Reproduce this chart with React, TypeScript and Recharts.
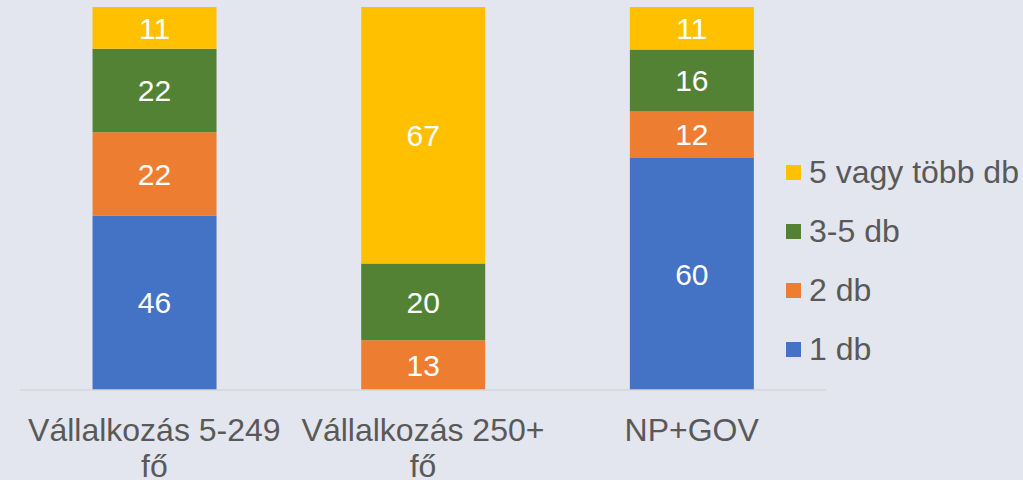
import React from 'react'
import { BarChart, Bar, XAxis, YAxis, LabelList } from 'recharts'

const categories = ['Vállalkozás 5-249 fő', 'Vállalkozás 250+ fő', 'NP+GOV']
const tickLines = [['Vállalkozás 5-249', 'fő'], ['Vállalkozás 250+', 'fő'], ['NP+GOV']]
const seriesNames = ['1 db', '2 db', '3-5 db', '5 vagy több db']
const seriesColors = ['#4472C4', '#ED7D31', '#548235', '#FFC000']
const oneDb = [46, 0, 60]
const twoDb = [22, 13, 12]
const threeToFive = [22, 20, 16]
const fivePlus = [11, 67, 11]

const keys = ['s0', 's1', 's2', 's3']
const data = categories.map((c, i) => ({
  name: c,
  s0: oneDb[i],
  s1: twoDb[i],
  s2: threeToFive[i],
  s3: fivePlus[i],
}))

const FONT = '"Liberation Sans", Arial, sans-serif'

const Tick = (props: any) => {
  const { x, y, index } = props
  const lines = tickLines[index] || []
  return (
    <g>
      {lines.map((l, k) => (
        <text key={k} x={x} y={y + 51 + k * 36} textAnchor="middle" fill="#595959"
          fontSize={32} fontFamily={FONT}>{l}</text>
      ))}
    </g>
  )
}

const LegendBox = () => (
  <div style={{ position: 'absolute', left: 786, top: 143, fontFamily: FONT, fontSize: 32, color: '#595959' }}>
    {[3, 2, 1, 0].map(i => (
      <div key={i} style={{ display: 'flex', alignItems: 'center', height: 59 }}>
        <span style={{ width: 15, height: 15, background: seriesColors[i], marginRight: 8, display: 'inline-block' }} />
        <span>{seriesNames[i]}</span>
      </div>
    ))}
  </div>
)

export default function App() {
  return (
    <div style={{ width: 1023, height: 480, background: '#E3E6EE', position: 'relative', overflow: 'hidden' }}>
      <style>{`body{margin:0}`}</style>
      <BarChart width={1023} height={480} data={data} stackOffset="expand"
        margin={{ top: 7, right: 197, bottom: 0, left: 20 }} barCategoryGap="27%">
        <XAxis dataKey="name" height={90} tickLine={false} tickSize={0} tickMargin={0}
          axisLine={{ stroke: '#D6D6D6', strokeWidth: 1.5 }} tick={<Tick />} interval={0} />
        <YAxis hide domain={[0, 1]} />
        {keys.map((k, i) => (
          <Bar key={k} dataKey={k} name={seriesNames[i]} stackId="a" fill={seriesColors[i]} isAnimationActive={false}>
            <LabelList dataKey={k} position="center" fill="#FFFFFF" fontSize={30} fontFamily={FONT}
              formatter={(v: any) => (v ? v : '')} />
          </Bar>
        ))}
      </BarChart>
      <LegendBox />
    </div>
  )
}
